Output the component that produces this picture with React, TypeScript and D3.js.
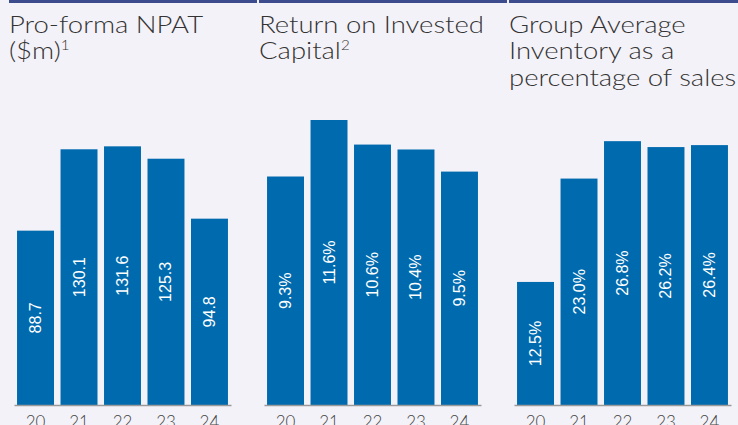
import React, { useEffect, useRef } from 'react'
import * as d3 from 'd3'

const years = ['20', '21', '22', '23', '24']
const npat = [88.7, 130.1, 131.6, 125.3, 94.8]
const roic = [9.3, 11.6, 10.6, 10.4, 9.5]
const inventory = [12.5, 23.0, 26.8, 26.2, 26.4]

const titles = [
  ['Pro-forma NPAT', '($m)', '1'],
  ['Return on Invested', 'Capital', '2'],
  ['Group Average', 'Inventory as a', 'percentage of sales'],
]

const App = () => {
  const svgRef = useRef<SVGSVGElement>(null)
  const width = 738
  const height = 425
  const panelWidth = 250
  const baseY = 405
  const topY = 120

  useEffect(() => {
    const svg = d3.select(svgRef.current)
    svg.selectAll('*').remove()

    svg.append('rect').attr('width', width).attr('height', height).attr('fill', '#f3f2f8')

    const panels = [
      { values: npat, max: 145, fmt: (d: number) => d.toFixed(1), title: titles[0], sup: true },
      { values: roic, max: 11.6, fmt: (d: number) => d.toFixed(1) + '%', title: titles[1], sup: true },
      { values: inventory, max: 28.95, fmt: (d: number) => d.toFixed(1) + '%', title: titles[2], sup: false },
    ]

    const x = d3.scaleBand().domain(years).range([14, 231]).paddingInner(0.15).paddingOuter(0.07)

    panels.forEach((p, i) => {
      const g = svg.append('g').attr('transform', `translate(${i * panelWidth},0)`)
      const y = d3.scaleLinear().domain([0, p.max]).range([baseY, topY])

      // top rule
      g.append('line')
        .attr('x1', 9)
        .attr('x2', i === 2 ? width - i * panelWidth : panelWidth + 7)
        .attr('y1', 1.5)
        .attr('y2', 1.5)
        .attr('stroke', '#3d4c8c')
        .attr('stroke-width', 3)

      // title (the original face is a wide geometric sans, so stretch it a little)
      const title = g
        .append('text')
        .attr('transform', 'translate(9,33) scale(1.17,1)')
        .style('font-family', 'Lato, sans-serif')
        .style('font-weight', 300)
        .style('font-size', '23.5px')
        .style('fill', '#333')
      if (p.sup) {
        title.append('tspan').attr('x', 0).attr('dy', 0).text(p.title[0])
        title.append('tspan').attr('x', 0).attr('dy', 26.5).text(p.title[1])
        title
          .append('tspan')
          .attr('dy', -9)
          .style('font-size', '13px')
          .text(p.title[2])
      } else {
        p.title.forEach((t, k) => {
          title.append('tspan').attr('x', 0).attr('dy', k === 0 ? 0 : 26.5).text(t)
        })
      }

      // bars
      g.append('g')
        .selectAll('rect')
        .data(p.values)
        .join('rect')
        .attr('x', (d, k) => x(years[k])!)
        .attr('width', x.bandwidth())
        .attr('y', (d) => y(d))
        .attr('height', (d) => baseY - y(d))
        .attr('fill', '#006aae')

      // value labels
      g.append('g')
        .selectAll('text')
        .data(p.values)
        .join('text')
        .attr('transform', (d, k) => {
          const cx = x(years[k])! + x.bandwidth() / 2
          const cy = (y(d) + baseY) / 2
          return `translate(${cx},${cy}) rotate(-90)`
        })
        .attr('text-anchor', 'middle')
        .attr('dominant-baseline', 'central')
        .style('font-family', '"Liberation Sans", Arial, sans-serif')
        .style('font-size', '16px')
        .style('fill', '#fff')
        .text((d) => p.fmt(d))

      // axis
      const axis = g
        .append('g')
        .attr('transform', `translate(0,${baseY})`)
        .call(d3.axisBottom(x).tickSize(0).tickSizeOuter(0).tickPadding(0))
      axis.select('path.domain').attr('stroke', '#9a9a9a').attr('stroke-width', 1.5)
      axis
        .selectAll('.tick text')
        .attr('dy', 0)
        .attr('y', 23)
        .style('font-family', 'Lato, sans-serif')
        .style('font-weight', 300)
        .style('font-size', '17px')
        .style('fill', '#444')
    })
  }, [])

  return (
    <svg
      ref={svgRef}
      width={width}
      height={height}
      style={{ position: 'absolute', left: 0, top: 0 }}
    ></svg>
  )
}

export default App
